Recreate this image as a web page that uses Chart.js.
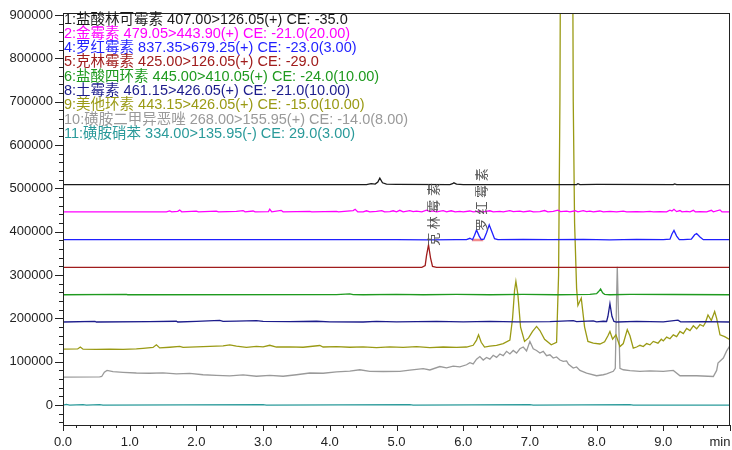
<!DOCTYPE html>
<html>
<head>
<meta charset="utf-8">
<script src="https://cdn.jsdelivr.net/npm/chart.js@4.4.0/dist/chart.umd.min.js"></script>
<style>
  html, body { margin: 0; padding: 0; background: #fff; }
  #wrap { width: 732px; height: 450px; }
</style>
</head>
<body>
<div id="wrap"><canvas id="mycanvas" width="732" height="450"></canvas></div>
<script>
// retention time (min), intensity
var trace1 = [[0,509000],[4.55,509000],[4.62,511000],[4.68,510000],[4.72,515000],[4.75,524000],[4.79,513000],[4.85,510000],[5.0,509500],[5.8,509000],[5.84,511000],[5.86,513000],[5.9,510000],[6.0,509000],[7.7,509000],[7.72,511000],[7.75,509000],[8.0,509500],[9.15,509000],[9.17,510500],[9.2,509000],[10,509000]];

var trace2 = [[0,446000],[1.55,446000],[1.6,448000],[1.63,446000],[1.72,447000],[1.75,450000],[1.78,446000],[2.0,447500],[2.03,446000],[2.3,447500],[2.33,446000],[2.6,447000],[2.7,449000],[2.73,446000],[2.85,448000],[2.88,446000],[3.08,446500],[3.1,452000],[3.13,446000],[3.27,449500],[3.3,446000],[3.7,447000],[3.73,446000],[4.1,447000],[4.13,446000],[4.35,449000],[4.38,452000],[4.42,446000],
  [4.5,446000],[4.55,448500],[4.6,446000],[4.7,447000],[4.78,449000],[4.82,446000],[4.9,446500],[4.95,448500],[5.0,446000],[5.05,449500],[5.1,446000],[5.2,449000],[5.25,446500],[5.3,447500],[5.38,446000],[5.45,450000],[5.5,446500],[5.55,448000],[5.6,446000],[5.7,449000],[5.75,446000],[5.82,448500],[5.88,446000],[5.95,447000],[6.0,446000],[6.1,448000],[6.15,446000],[6.25,447500],[6.3,446000],[6.4,448500],[6.45,446000],[6.55,447000],[6.6,446000],[6.7,449000],[6.75,446500],[6.85,447500],[6.9,446000],[7.0,448000],[7.05,446000],[7.15,446500],[7.22,449000],[7.27,446000],[7.35,447000],[7.42,450000],[7.46,446500],[7.55,447500],[7.6,446000],[7.68,448500],[7.72,446000],[7.8,449000],[7.85,446500],[7.9,447500],[7.95,446000],[8.05,448000],[8.1,446000],[8.2,447000],[8.3,446000],[8.4,447500],[8.45,446000],[8.6,446500],[8.7,446000],[8.8,447000],[8.85,446000],[8.95,446500],[9.05,446000],[9.1,450000],[9.13,448000],[9.16,452000],[9.2,446500],[9.25,449000],[9.28,446000],[9.35,447000],[9.4,446000],[9.45,449500],[9.48,446000],[9.55,446500],[9.65,446000],[9.72,449500],[9.75,446000],[9.85,450500],[9.88,446000],[10,446000]];

var trace4 = [[0,381700],[4.5,381700],[5.0,382000],[5.5,381500],[5.9,381700],[6.05,382000],[6.1,385000],[6.14,381700],[6.17,392000],[6.2,404000],[6.24,390000],[6.27,382000],[6.31,383000],[6.35,398000],[6.39,416000],[6.43,400000],[6.47,384000],[6.52,381700],[6.9,382500],[7.3,381700],[7.8,382500],[8.2,381500],[8.6,382500],[9.0,381700],[9.1,383000],[9.13,395000],[9.16,403000],[9.2,390000],[9.24,382000],[9.3,381700],[9.42,383000],[9.47,393000],[9.5,396000],[9.55,388000],[9.6,381700],[10,381700]];

var trace5 = [[0,318000],[5.38,318000],[5.43,322000],[5.45,345000],[5.48,370000],[5.51,340000],[5.54,320000],[5.6,318000],[10,318000]];

var trace6 = [[0,254700],[0.95,255500],[0.97,254700],[4.1,255000],[4.3,256500],[4.35,255000],[4.5,254700],[5.0,255500],[5.4,254700],[5.9,255500],[6.4,254700],[6.9,255500],[7.4,254700],[7.9,255500],[8.0,257000],[8.03,262000],[8.06,268000],[8.09,259000],[8.12,255500],[8.2,254700],[8.5,255500],[9.15,255200],[10,254700]];

var trace8 = [[0,191700],[0.48,193000],[0.5,191700],[1.3,192500],[1.7,193500],[1.72,191700],[2.0,193000],[2.35,195500],[2.4,193000],[2.6,194000],[2.9,195000],[3.0,193000],[3.4,192500],[3.8,193500],[4.0,192000],[4.5,191700],[4.7,193000],[5.0,192000],[5.6,193000],[6.0,192000],[6.4,193000],[6.8,192000],[7.3,192500],[7.65,195000],[7.7,192500],[7.95,194500],[8.0,192000],[8.1,193500],[8.15,193000],[8.17,205000],[8.2,234000],[8.23,205000],[8.26,193000],[8.3,191700],[8.6,193000],[9.0,192000],[9.22,196000],[9.26,192000],[9.6,192500],[10,191700]];

var trace9 = [[0,129000],[0.22,129500],[0.26,134000],[0.3,129000],[0.5,128500],[0.7,129000],[0.9,128500],[1.1,129500],[1.2,131000],[1.35,133000],[1.4,139000],[1.45,132000],[1.6,133500],[1.75,135500],[1.8,133000],[2.0,134500],[2.2,135500],[2.4,136500],[2.5,139000],[2.6,136000],[2.75,133000],[2.9,135500],[3.0,134500],[3.1,138000],[3.2,134000],[3.4,134500],[3.6,133500],[3.85,137500],[3.9,134000],[4.1,135000],[4.3,133500],[4.5,134500],[4.7,132500],[4.9,134500],[5.1,133000],[5.3,135000],[5.5,132500],[5.7,134000],[5.9,133000],[6.05,134000],[6.15,138000],[6.2,150000],[6.23,162000],[6.27,145000],[6.32,134000],[6.4,136000],[6.5,138000],[6.6,142000],[6.7,150000],[6.74,200000],[6.77,265000],[6.79,285500],[6.82,255000],[6.86,180000],[6.92,147000],[6.98,155000],[7.04,170000],[7.1,181500],[7.15,172000],[7.22,152000],[7.32,139000],[7.4,145000],[7.43,300000],[7.45,700000],[7.47,1500000],[7.56,3000000],[7.63,1500000],[7.65,700000],[7.67,420000],[7.7,270000],[7.72,230000],[7.77,247000],[7.82,180000],[7.87,147000],[7.95,143000],[8.05,141000],[8.12,146000],[8.17,160000],[8.2,170000],[8.24,152000],[8.29,162000],[8.35,135000],[8.4,142000],[8.46,174000],[8.5,160000],[8.55,131500],[8.6,134000],[8.65,138000],[8.7,135000],[8.75,142000],[8.8,139000],[8.85,147000],[8.92,143000],[8.97,152000],[9.0,148000],[9.05,157000],[9.1,153000],[9.15,162000],[9.2,158000],[9.25,170000],[9.3,165000],[9.35,177000],[9.4,172000],[9.45,183000],[9.5,176000],[9.55,186000],[9.6,182000],[9.63,190000],[9.67,208000],[9.72,195000],[9.77,216000],[9.8,200000],[9.85,162000],[9.92,158000],[10,151000]];

var trace10 = [[0,64700],[0.55,65000],[0.58,66000],[0.62,76000],[0.66,80000],[0.75,77000],[0.9,75500],[1.1,74000],[1.3,73500],[1.5,74500],[1.7,72000],[1.9,73000],[2.1,70000],[2.3,68500],[2.5,67500],[2.7,69500],[2.9,66500],[3.1,68500],[3.3,66500],[3.5,70000],[3.7,74000],[3.9,73500],[4.1,76500],[4.3,78500],[4.45,81500],[4.6,78000],[4.8,77500],[5.05,77600],[5.2,80500],[5.4,84000],[5.5,81000],[5.65,89000],[5.75,86000],[5.85,90000],[5.95,88000],[6.05,93000],[6.1,98000],[6.15,95000],[6.2,106000],[6.25,112000],[6.3,104000],[6.35,110000],[6.4,106000],[6.45,115000],[6.5,110000],[6.55,118000],[6.6,114000],[6.65,124000],[6.7,118000],[6.75,126000],[6.8,120000],[6.85,130000],[6.9,134000],[6.95,125000],[7.0,147000],[7.05,130000],[7.1,126000],[7.15,120000],[7.2,124000],[7.25,114000],[7.3,116000],[7.35,108600],[7.4,111000],[7.45,104000],[7.5,100700],[7.55,102000],[7.58,94000],[7.65,85500],[7.7,88000],[7.75,80000],[7.85,74000],[8.0,67700],[8.1,70000],[8.15,72000],[8.25,78000],[8.28,85000],[8.3,250000],[8.31,319000],[8.33,200000],[8.35,85000],[8.4,81500],[8.5,79500],[8.65,77600],[8.8,79000],[9.0,78000],[9.15,80000],[9.25,67700],[9.5,67700],[9.75,66000],[9.8,80000],[9.82,97000],[9.9,108600],[9.95,125000],[10,137000]];

var trace11 = [[0,0],[0.05,1500],[0.1,0],[0.3,1200],[0.35,0],[0.55,1000],[0.6,0],[3.0,800],[3.05,0],[5.2,1000],[5.25,0],[7.0,900],[7.05,0],[8.5,1000],[8.55,0],[10,0]];

var integBand = [[6.13,381000],[6.3,381000]];

var traceNames = ["1:盐酸林可霉素 407.00>126.05(+) CE: -35.0",
  "2:金霉素 479.05>443.90(+) CE: -21.0(20.00)",
  "4:罗红霉素 837.35>679.25(+) CE: -23.0(3.00)",
  "5:克林霉素 425.00>126.05(+) CE: -29.0",
  "6:盐酸四环素 445.00>410.05(+) CE: -24.0(10.00)",
  "8:土霉素 461.15>426.05(+) CE: -21.0(10.00)",
  "9:美他环素 443.15>426.05(+) CE: -15.0(10.00)",
  "10:磺胺二甲异恶唑 268.00>155.95(+) CE: -14.0(8.00)",
  "11:磺胺硝苯 334.00>135.95(-) CE: 29.0(3.00)"];
var traceColors = ["#1a1a1a","#ff00ff","#1f1fff","#a01c1c","#1f9a1f","#1c1c8c","#9a9a14","#9a9a9a","#2a9a9a"];
var traces = [trace1, trace2, trace4, trace5, trace6, trace8, trace9, trace10, trace11];

var yTicks = [0,100000,200000,300000,400000,500000,600000,700000,800000,900000];
var peakLabels = [{text:"克林霉素", x:5.57, y:440000}, {text:"罗红霉素", x:6.29, y:474000}];

var FONT = '"Liberation Sans", Arial, "Noto Sans CJK SC", sans-serif';

function toXY(arr) {
  return arr.map(function(p){ return {x:p[0], y:p[1]}; });
}

var datasets = [];
for (var i in traces) {
  datasets.push({
    label: traceNames[i],
    data: toXY(traces[i]),
    borderColor: traceColors[i],
    borderWidth: 1.3,
    pointRadius: 0,
    fill: false,
    tension: 0
  });
}
datasets.push({label:"integ", data: toXY(integBand), borderColor:"rgba(240,110,110,0.8)", borderWidth:2.5, pointRadius:0});

var extras = {
  id: 'extras',
  afterDatasetsDraw: function(chart) {
    var ctx = chart.ctx, a = chart.chartArea;
    var xs = chart.scales.x, ys = chart.scales.y;
    ctx.save();
    // frame
    ctx.strokeStyle = "#222";
    ctx.lineWidth = 1;
    ctx.strokeRect(a.left + 0.5, a.top + 0.5, a.right - a.left - 1, a.bottom - a.top);
    // y tick marks
    for (var v = -40000; v <= 900000; v += 20000) {
      var py = Math.round(ys.getPixelForValue(v)) + 0.5;
      var len = (v % 100000 === 0) ? 8 : 4;
      ctx.beginPath(); ctx.moveTo(a.left - len, py); ctx.lineTo(a.left, py); ctx.stroke();
    }
    // x tick marks
    for (var k = 0; k <= 50; k++) {
      var px = Math.round(xs.getPixelForValue(k * 0.2)) + 0.5;
      var l2 = (k % 5 === 0) ? 6 : 3;
      ctx.beginPath(); ctx.moveTo(px, a.bottom); ctx.lineTo(px, a.bottom + l2); ctx.stroke();
    }
    // unit
    ctx.fillStyle = "#222";
    ctx.font = "13px " + FONT;
    ctx.textAlign = "center"; ctx.textBaseline = "middle";
    ctx.fillText("min", a.right - 10, 442);
    // legend text
    ctx.font = "14.5px " + FONT;
    ctx.textAlign = "left";
    for (var j = 0; j < traceNames.length; j++) {
      ctx.fillStyle = traceColors[j];
      ctx.fillText(traceNames[j], a.left + 1, 19.5 + j * 14.3);
    }
    // peak names, vertical
    ctx.fillStyle = "#555";
    ctx.font = "13px " + FONT;
    peakLabels.forEach(function(p) {
      ctx.save();
      ctx.translate(xs.getPixelForValue(p.x), ys.getPixelForValue(p.y));
      ctx.rotate(-Math.PI / 2);
      ctx.textAlign = "center";
      ctx.fillText(p.text.split("").join(" "), 0, 0);
      ctx.restore();
    });
    ctx.restore();
  }
};

var ctx = document.getElementById("mycanvas");
var chromChart = new Chart(ctx, {
  type: 'line',
  data: { datasets: datasets },
  options: {
    responsive: false,
    animation: false,
    layout: { padding: { top: 13, right: 2, left: 0, bottom: 0 } },
    plugins: { legend: { display: false }, tooltip: { enabled: false } },
    scales: {
      x: {
        type: 'linear', min: 0, max: 10,
        grid: { display: false, drawTicks: false },
        border: { display: false },
        ticks: {
          stepSize: 1, padding: 10, color: "#222", maxRotation: 0,
          font: { size: 13, family: FONT },
          callback: function(v) { return v >= 10 ? "" : v.toFixed(1); }
        },
        afterFit: function(s) { s.height = 25; s.paddingLeft = 0; s.paddingRight = 0; }
      },
      y: {
        type: 'linear', min: -46000, max: 905000,
        grid: { display: false, drawTicks: false },
        border: { display: false },
        afterBuildTicks: function(s) { s.ticks = yTicks.map(function(v){ return {value: v}; }); },
        ticks: {
          padding: 10, color: "#222",
          font: { size: 13, family: FONT },
          callback: function(v) { return String(v); }
        },
        afterFit: function(s) { s.width = 63; s.paddingTop = 0; s.paddingBottom = 0; }
      }
    }
  },
  plugins: [extras]
});
</script>
</body>
</html>
